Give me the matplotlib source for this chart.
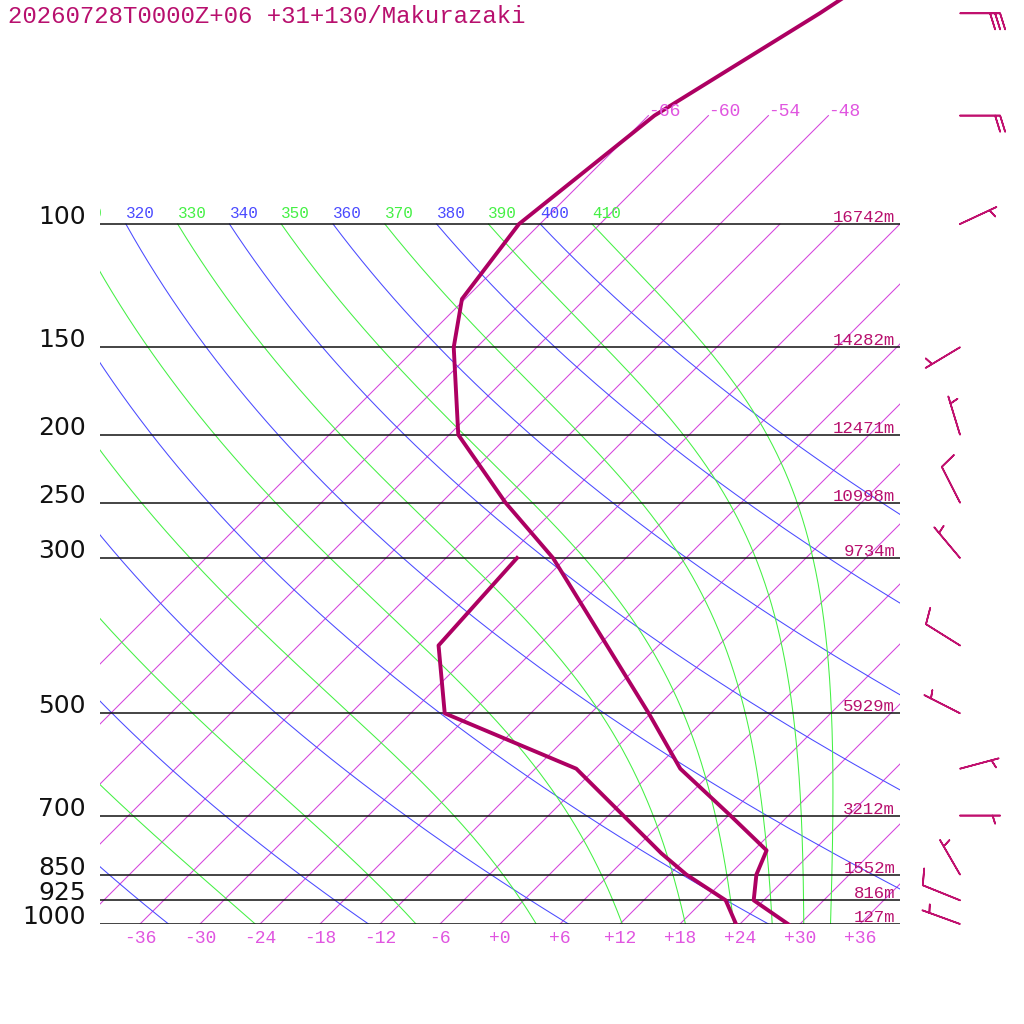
import numpy as np
import matplotlib
matplotlib.use('Agg')
import matplotlib.pyplot as plt
import matplotlib.transforms as mtransforms

title = '20260728T0000Z+06 +31+130/Makurazaki'

# temperature profile (hPa, degC)
t_pres = [1000, 925, 850, 785, 700, 600, 500, 300, 250, 200, 150, 128, 100, 70, 50, 30]
t_temp = [28.8, 23.0, 20.7, 19.3, 12.2, 2.5, -6.2, -31.3, -41.6, -53.1, -62.3, -66.3, -68.1, -65.4, -59.1, -51.0]

# dewpoint profile
td_pres = [1000, 925, 850, 793, 600, 500, 400, 300]
td_temp = [23.6, 20.2, 13.7, 9.1, -7.9, -26.6, -34.0, -34.9]

# standard levels and their heights
levels = [100, 150, 200, 250, 300, 500, 700, 850, 925, 1000]
heights = ['16742m', '14282m', '12471m', '10998m', '9734m', '5929m', '3212m', '1552m', '816m', '127m']

# winds (direction from, knots)
wind_pres = [50, 70, 100, 150, 200, 250, 300, 400, 500, 600, 700, 850, 925, 1000]
wind_dir = [90, 90, 65, 239, 343, 333, 320, 302, 297, 75, 90, 330, 292, 290]
wind_kt = [30, 20, 5, 5, 5, 10, 5, 10, 5, 5, 5, 5, 10, 5]

# background lines
isotherms = np.arange(-66, 37, 6)
iso_top = [-66, -60, -54, -48]
dry_theta = np.arange(240, 401, 20)
moist_thetae = np.arange(250, 411, 20)
tick_T = np.arange(-36, 37, 6)

RD = 287.04
CP = 1004.6
LV = 2.501e6
KAPPA = RD / CP

C_ISO = '#d444dc'
C_BLUE = '#4a4aff'
C_GREEN = '#44f044'
C_SND = '#ad0062'
C_TXT = '#b8106e'
C_LBL = '#e055e0'
MONO = 'Liberation Mono'


def lapse(T, p):
    es = 6.112 * np.exp(17.67 * (T - 273.15) / (T - 29.65))
    rs = 0.622 * es / (p - es)
    return (RD * T + LV * rs) / (CP + LV ** 2 * rs * 0.622 / (RD * T ** 2))


def moist_adiabat(thetae, pres):
    T = thetae * (pres[0] / 1000.0) ** KAPPA
    out = [T]
    for p0, p1 in zip(pres[:-1], pres[1:]):
        dl = np.log(p1 / p0)
        k1 = lapse(T, p0)
        k2 = lapse(T + k1 * dl, p1)
        T = T + 0.5 * (k1 + k2) * dl
        out.append(T)
    return np.array(out) - 273.15


P_TOP = 1000 * np.exp(-924 / 304)

fig = plt.figure(figsize=(10.24, 10.24), dpi=100)
ax = fig.add_axes([100 / 1024, 100 / 1024, 800 / 1024, 924 / 1024])
ax.set_yscale('log')
ax.set_xlim(-40, 40)
ax.set_ylim(1000, P_TOP)
for s in ax.spines.values():
    s.set_visible(False)

skew = mtransforms.Affine2D().translate(0, -100).skew_deg(45, 0).translate(0, 100)
tr = ax.transData + skew
lbl_tr = mtransforms.offset_copy(tr, fig=fig, x=0, y=6, units='dots')

pres = np.geomspace(100, 1000, 400)
# skewed temperature at 100 hPa that still lands near the left edge
T_EDGE_100 = -113.5


def adiabat_label(t100, text, color):
    if t100 > T_EDGE_100:
        ax.text(t100, 100, text, transform=lbl_tr, color=color, fontsize=11.5,
                fontfamily=MONO, ha='left', va='baseline', clip_on=True)


# isotherms
for t in isotherms:
    ptop = 70 if t in iso_top else 100
    ax.plot([t, t], [1000, ptop], color=C_ISO, lw=0.75, transform=tr)
for t in iso_top:
    ax.text(t, 70, '%d' % t, transform=tr, color=C_LBL, fontsize=13,
            fontfamily=MONO, ha='left', va='baseline')

# dry adiabats
for th in dry_theta:
    ax.plot(th * (pres / 1000.0) ** KAPPA - 273.15, pres, color=C_BLUE, lw=0.75, transform=tr)
    adiabat_label(th * 0.1 ** KAPPA - 273.15, str(th), C_BLUE)

# moist adiabats
for the in moist_thetae:
    ax.plot(moist_adiabat(the, pres), pres, color=C_GREEN, lw=0.75, transform=tr)
    adiabat_label(the * 0.1 ** KAPPA - 273.15, str(the), C_GREEN)

# pressure levels
ytr = ax.get_yaxis_transform()
for p, h in zip(levels, heights):
    ax.axhline(p, color='#111111', lw=1.1)
    ax.text(-0.0175, p, str(p), transform=ytr, ha='right', va='baseline',
            fontsize=18, color='#111111', clip_on=False)
    ax.text(0.994, p, h, transform=mtransforms.offset_copy(ytr, fig=fig, x=0, y=2, units='dots'),
            ha='right', va='baseline', fontsize=12.5, fontfamily=MONO, color=C_TXT)

# sounding
ax.plot(t_temp, t_pres, color=C_SND, lw=2.8, transform=tr)
ax.plot(td_temp, td_pres, color=C_SND, lw=2.8, transform=tr)

ax.set_yticks([])
ax.set_yticks([], minor=True)
ax.set_xticks(tick_T)
ax.set_xticklabels(['%+d' % t for t in tick_T], fontfamily=MONO, fontsize=13, color=C_LBL)
ax.tick_params(axis='x', length=0, pad=4)

fig.text(8 / 1024, 1 - 5 / 1024, title, ha='left', va='top', fontfamily=MONO,
         fontsize=17.3, color=C_TXT)

# wind barbs
ax2 = fig.add_axes([900 / 1024, 100 / 1024, 124 / 1024, 924 / 1024])
ax2.set_yscale('log')
ax2.set_ylim(1000, P_TOP)
ax2.set_xlim(0, 124)
ax2.axis('off')
wd = np.radians(wind_dir)
u = -np.array(wind_kt) * np.sin(wd)
v = -np.array(wind_kt) * np.cos(wd)
ax2.barbs(np.full(len(wind_pres), 60), wind_pres, u, v, length=7.6,
          color='#c0106e', lw=1.2, clip_on=False)

fig.savefig('out.png', dpi=100, facecolor='white')
